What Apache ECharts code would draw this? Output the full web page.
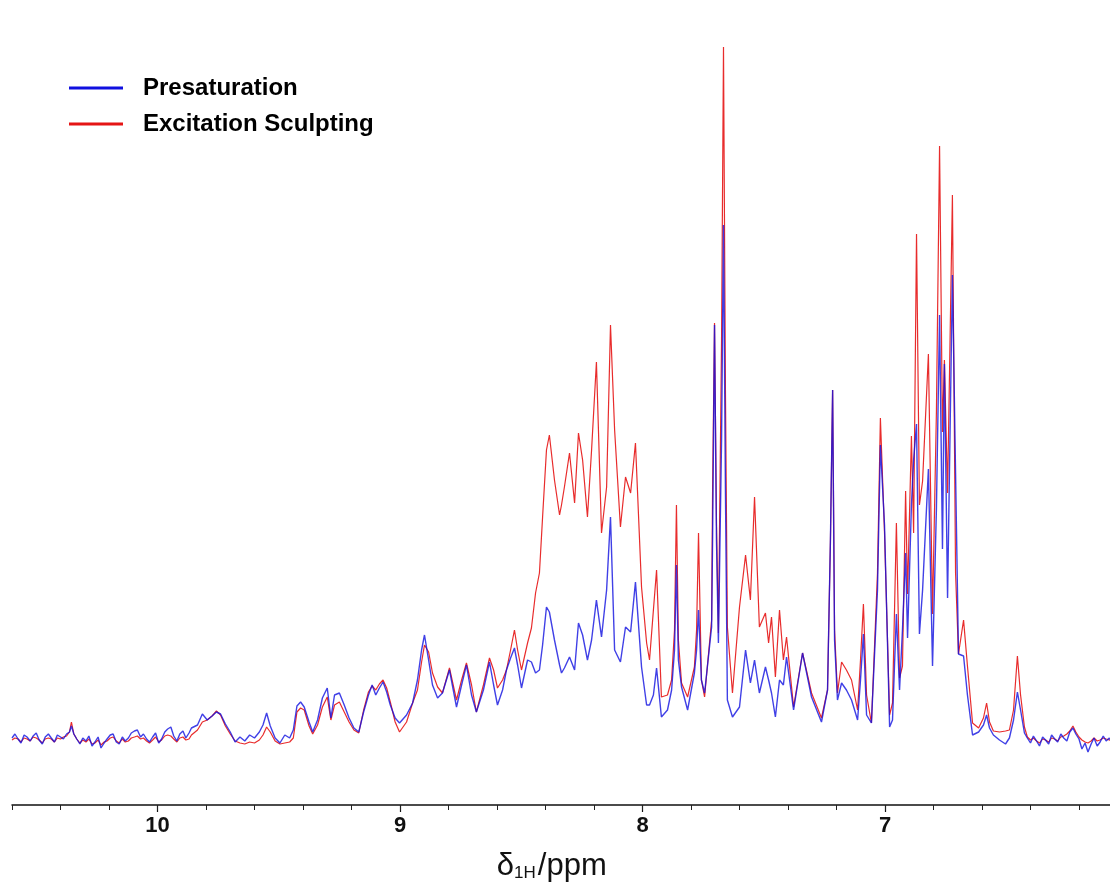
<!DOCTYPE html>
<html>
<head>
<meta charset="utf-8">
<script src="https://cdn.jsdelivr.net/npm/echarts@6/dist/echarts.min.js"></script>
<style>
html,body{margin:0;padding:0;background:#fff;}
#chart{width:1110px;height:886px;}
</style>
</head>
<body>
<div id="chart"></div>
<script>
// Chemical shift (ppm) sampling positions
const ppm = [
10.600,10.588,10.575,10.563,10.550,10.538,10.525,10.513,10.500,10.488,10.475,10.463,10.450,10.438,10.425,10.413,10.400,10.388,10.375,10.363,10.355,10.345,10.333,10.320,10.308,10.295,10.283,10.270,10.258,10.245,10.233,10.220,10.208,10.195,10.183,10.170,10.158,10.145,10.133,10.120,10.108,10.095,10.083,10.070,10.058,10.045,10.033,10.020,10.008,9.995,9.983,9.970,9.958,9.945,9.933,9.920,9.908,9.895,9.883,9.870,9.860,
9.835,9.815,9.795,9.775,9.757,9.740,9.720,9.700,9.680,9.660,9.640,9.620,9.600,9.580,9.565,9.550,9.535,9.515,9.495,9.475,9.455,9.440,9.425,9.410,9.395,9.375,9.360,9.340,9.320,9.300,9.285,9.270,9.250,9.230,9.210,9.190,9.170,9.150,9.130,9.115,9.100,9.085,9.070,9.055,9.040,9.020,9.002,
8.973,8.948,8.928,8.911,8.899,8.882,8.866,8.845,8.825,8.796,8.767,8.746,8.726,8.705,8.685,8.656,8.631,8.614,8.598,8.577,8.561,8.544,8.528,8.515,8.499,8.474,8.458,8.441,8.425,8.412,8.396,8.384,8.363,8.342,8.334,8.322,8.301,8.280,8.264,8.247,8.227,8.210,8.190,8.169,8.148,8.132,8.115,8.091,8.070,8.049,8.029,8.004,
7.983,7.971,7.955,7.942,7.922,7.897,7.880,7.868,7.860,7.852,7.839,7.814,7.786,7.777,7.769,7.757,7.744,7.715,7.711,7.703,7.695,7.687,7.674,7.666,7.658,7.650,7.629,7.600,7.575,7.555,7.538,7.518,7.493,7.480,7.468,7.452,7.435,7.419,7.406,7.377,7.340,7.303,7.262,7.237,7.225,7.216,7.208,7.196,7.179,7.159,7.138,7.113,7.101,7.089,7.076,7.056,7.031,7.019,7.002,
6.981,6.969,6.953,6.940,6.928,6.915,6.907,6.891,6.882,6.870,6.858,6.845,6.821,6.804,6.788,6.775,6.763,6.755,6.742,6.722,6.709,6.697,6.676,6.660,6.639,6.614,6.594,6.581,6.569,6.553,6.528,6.503,6.487,6.470,6.454,6.441,6.425,
6.413,6.400,6.388,6.375,6.363,6.350,6.338,6.325,6.313,6.300,6.288,6.275,6.263,6.250,6.238,6.225,6.213,6.200,6.188,6.175,6.163,6.150,6.138,6.125,6.113,6.100,6.088,6.075,6.063,6.050,6.038,6.025,6.013,6.000
];
// Presaturation intensity (a.u.)
const presaturation = [
2,6,1,-3,5,3,-1,4,7,0,-4,3,6,2,-2,5,3,1,6,8,14,6,1,-4,2,-1,4,-6,-2,3,-8,-3,1,5,6,-2,-4,3,-1,2,7,9,10,3,6,1,-2,3,7,-3,1,8,11,13,4,-1,6,9,2,7,12,
15,26,20,24,28,26,16,8,-2,3,-1,5,2,8,15,27,14,2,-3,5,2,10,34,38,33,18,8,20,42,52,22,45,47,35,22,12,8,28,45,55,45,52,58,48,35,22,17,
25,37,60,90,105,80,55,42,47,70,33,55,75,45,28,50,78,55,35,50,70,82,92,75,52,80,78,67,70,95,133,128,100,75,67,72,83,70,117,105,80,100,140,103,150,223,90,78,113,108,158,73,
35,35,45,72,23,30,50,90,175,80,53,30,67,90,130,60,47,113,200,415,200,97,300,515,250,40,23,33,90,57,80,47,73,60,47,23,60,55,83,30,87,43,18,50,200,350,100,40,57,50,40,20,60,106,25,17,150,295,215,
13,20,126,50,110,187,102,235,280,316,106,150,271,74,231,425,191,376,142,465,267,86,84,45,5,8,15,25,12,5,0,-4,2,20,48,30,7,
2,-3,4,-1,-6,3,0,-4,5,1,-2,6,2,-1,8,12,6,1,-9,-3,-12,-4,2,-6,-2,4,-1,2,-3,0,3,-2,1,0
];
// Excitation Sculpting intensity (a.u.)
const excitationSculpting = [
0,2,1,-2,2,1,-1,3,2,0,-3,1,2,1,-2,2,1,3,4,8,18,6,1,-3,0,-2,1,-4,-3,0,-5,-2,-1,2,3,-1,-3,1,-2,-1,2,3,4,1,2,-1,-3,0,3,-2,0,4,5,4,1,-2,2,3,0,1,5,
10,18,20,24,29,25,14,6,-1,-3,-4,-2,-3,0,5,13,8,-1,-4,-3,-2,2,28,32,30,14,6,15,33,43,20,35,38,28,18,10,7,30,48,54,50,56,60,52,38,18,8,
18,37,50,78,95,88,67,53,47,72,40,60,77,55,28,55,82,70,52,60,70,90,110,90,70,97,112,147,167,223,290,305,260,225,235,253,287,237,307,280,223,290,378,207,253,415,310,213,263,247,297,153,
97,80,130,170,43,45,60,110,235,100,57,43,73,110,207,60,43,120,250,417,220,107,400,693,350,113,47,133,185,140,243,113,127,97,123,63,130,80,103,33,87,47,22,50,200,350,110,47,78,70,60,30,80,136,45,17,167,322,207,
25,37,217,62,74,249,146,304,207,506,235,259,386,126,328,594,308,380,247,545,167,86,120,74,17,12,22,37,18,9,8,9,10,30,84,45,13,
3,0,2,-1,-3,1,0,-2,2,1,-1,3,4,6,9,14,8,3,0,-2,-3,-1,2,-1,0,2,1,0,-1,1,0,2,0,1
];
const seriesNames = ['Presaturation', 'Excitation Sculpting'];
const majorTicks = [6, 7, 8, 9, 10];

const presatData = ppm.map((p, i) => [p, presaturation[i]]);
const sculptData = ppm.map((p, i) => [p, excitationSculpting[i]]);

const chart = echarts.init(document.getElementById('chart'), null, {renderer: 'canvas'});
chart.setOption({
  animation: false,
  backgroundColor: '#ffffff',
  grid: {left: 12, width: 1115.5, top: 5, bottom: 81, outerBoundsMode: 'none', containLabel: false},
  legend: {
    orient: 'vertical',
    left: 64,
    top: 71,
    itemWidth: 54,
    itemHeight: 3,
    itemGap: 12,
    icon: 'rect',
    data: [
      {name: seriesNames[0], itemStyle: {color: '#1010e0'}},
      {name: seriesNames[1], itemStyle: {color: '#e51515'}}
    ],
    textStyle: {
      fontFamily: 'Liberation Sans, Arial, sans-serif',
      fontWeight: 'bold',
      fontSize: 24,
      color: '#000',
      padding: [0, 0, 0, 15]
    }
  },
  xAxis: [
    {
      type: 'value',
      position: 'bottom',
      inverse: true,
      min: 6,
      max: 10.6,
      interval: 1,
      axisLine: {show: true, onZero: false, lineStyle: {color: '#111', width: 1.5}},
      axisTick: {show: true, length: 7, lineStyle: {color: '#111', width: 1.2}},
      axisLabel: {
        show: true,
        margin: 10,
        showMaxLabel: false,
        fontFamily: 'Liberation Sans Narrow, Liberation Sans, Arial, sans-serif',
        fontWeight: 'bold',
        fontSize: 22,
        color: '#111',
        formatter: v => (majorTicks.indexOf(v) >= 0 ? String(v) : '')
      },
      splitLine: {show: false},
      name: '{d|δ}{s|1H}{p|/ppm}',
      nameLocation: 'middle',
      nameGap: 46,
      nameTextStyle: {
        padding: [0, 36, 0, 0],
        rich: {
          d: {fontFamily: 'Liberation Sans, Arial, sans-serif', fontSize: 31, color: '#111', verticalAlign: 'bottom'},
          s: {fontFamily: 'Liberation Sans, Arial, sans-serif', fontSize: 17, color: '#111', verticalAlign: 'bottom', padding: [0, 2, 0, 0]},
          p: {fontFamily: 'Liberation Sans, Arial, sans-serif', fontSize: 31, color: '#111', verticalAlign: 'bottom'}
        }
      }
    },
    {
      type: 'value',
      position: 'bottom',
      inverse: true,
      min: 6,
      max: 10.6,
      interval: 0.2,
      axisLine: {show: false, onZero: false},
      axisTick: {show: true, length: 5, lineStyle: {color: '#222', width: 1}},
      axisLabel: {show: false},
      splitLine: {show: false}
    }
  ],
  yAxis: {
    type: 'value',
    min: -65,
    max: 735,
    show: false,
    splitLine: {show: false}
  },
  series: [
    {
      name: seriesNames[1],
      type: 'line',
      data: sculptData,
      showSymbol: false,
      symbol: 'none',
      lineStyle: {color: '#e51515', width: 1.2, opacity: 0.9},
      itemStyle: {color: '#e51515'},
      z: 2
    },
    {
      name: seriesNames[0],
      type: 'line',
      data: presatData,
      showSymbol: false,
      symbol: 'none',
      lineStyle: {color: '#1010e0', width: 1.4, opacity: 0.8},
      itemStyle: {color: '#1010e0'},
      z: 3
    }
  ]
});
</script>
</body>
</html>
